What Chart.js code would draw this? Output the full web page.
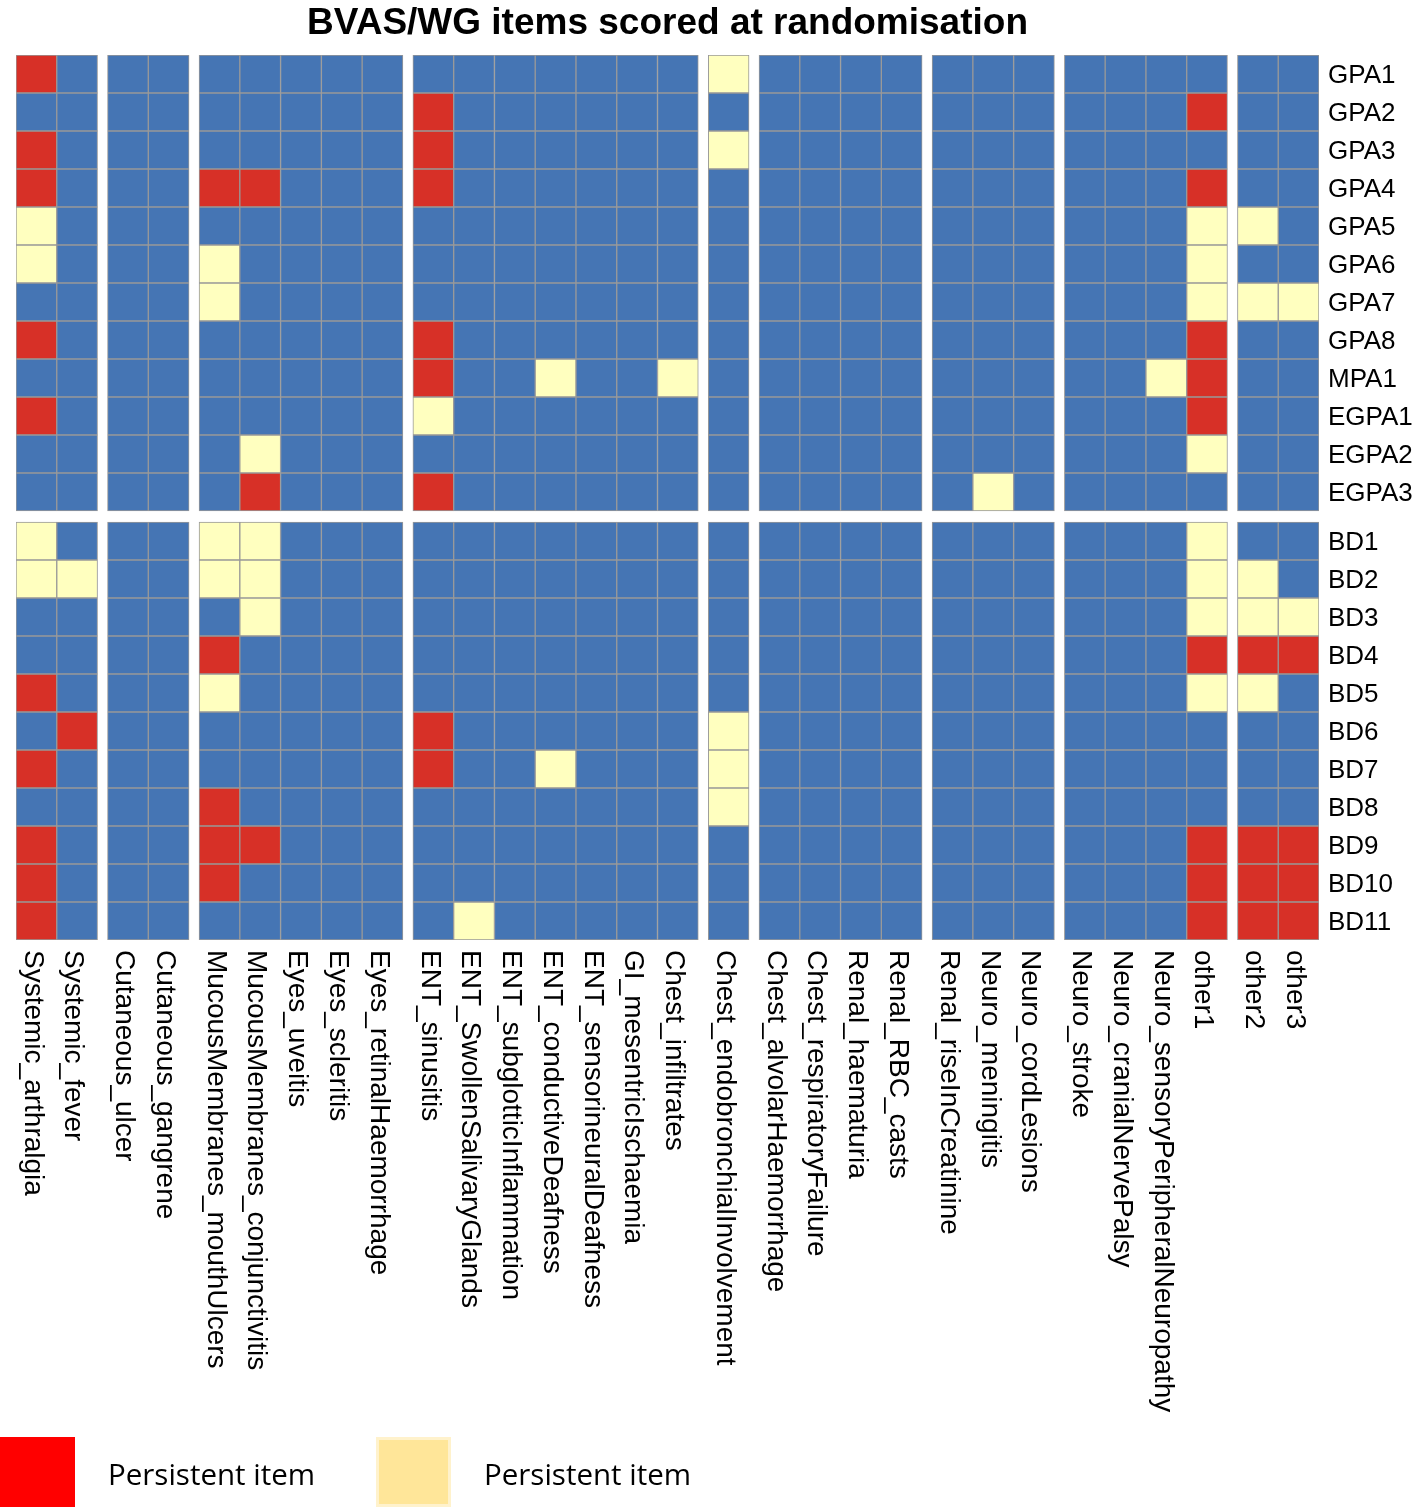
<!DOCTYPE html>
<html>
<head>
<meta charset="utf-8">
<script src="https://cdn.jsdelivr.net/npm/chart.js@4.4.0/dist/chart.umd.min.js"></script>
<style>
  body { margin: 0; background: #fff; }
  #wrap { position: relative; width: 1424px; height: 1507px; overflow: hidden; }
  .key { position: absolute; top: 1437px; width: 75px; height: 70px; box-sizing: border-box; }
  .key-label { position: absolute; top: 1459px; font-family: 'Open Sans', sans-serif; font-size: 29.5px; line-height: 30px; color: #000; white-space: nowrap; }
</style>
</head>
<body>
<div id="wrap">
  <canvas id="heatmap" width="1424" height="1507"></canvas>
  <div class="key" style="left:0;background:#ff0000"></div>
  <div class="key-label" style="left:108px">Persistent item</div>
  <div class="key" style="left:376px;background:#ffe699;border:3px solid #fff2cc"></div>
  <div class="key-label" style="left:484px">Persistent item</div>
</div>
<script>
const title = 'BVAS/WG items scored at randomisation';

const items = [
  'Systemic_arthralgia', 'Systemic_fever',
  'Cutaneous_ulcer', 'Cutaneous_gangrene',
  'MucousMembranes_mouthUlcers', 'MucousMembranes_conjunctivitis', 'Eyes_uveitis', 'Eyes_scleritis', 'Eyes_retinalHaemorrhage',
  'ENT_sinusitis', 'ENT_SwollenSalivaryGlands', 'ENT_subglotticInflammation', 'ENT_conductiveDeafness', 'ENT_sensorineuralDeafness', 'GI_mesentricIschaemia', 'Chest_infiltrates',
  'Chest_endobronchialInvolvement',
  'Chest_alvolarHaemorrhage', 'Chest_respiratoryFailure', 'Renal_haematuria', 'Renal_RBC_casts',
  'Renal_riseInCreatinine', 'Neuro_meningitis', 'Neuro_cordLesions',
  'Neuro_stroke', 'Neuro_cranialNervePalsy', 'Neuro_sensoryPeripheralNeuropathy', 'other1',
  'other2', 'other3'
];
// column block each item belongs to (blocks are separated by a gap)
const itemGroups = [0,0, 1,1, 2,2,2,2,2, 3,3,3,3,3,3,3, 4, 5,5,5,5, 6,6,6, 7,7,7,7, 8,8];

const patients = [
  'GPA1', 'GPA2', 'GPA3', 'GPA4', 'GPA5', 'GPA6', 'GPA7', 'GPA8', 'MPA1', 'EGPA1', 'EGPA2', 'EGPA3',
  'BD1', 'BD2', 'BD3', 'BD4', 'BD5', 'BD6', 'BD7', 'BD8', 'BD9', 'BD10', 'BD11'
];
const patientGroups = [0,0,0,0,0,0,0,0,0,0,0,0, 1,1,1,1,1,1,1,1,1,1,1];

// 0 = not scored, 1 = red, 2 = pale yellow; one array per patient, in item order
const scores = [
  [1,0, 0,0, 0,0,0,0,0, 0,0,0,0,0,0,0, 2, 0,0,0,0, 0,0,0, 0,0,0,0, 0,0], // GPA1
  [0,0, 0,0, 0,0,0,0,0, 1,0,0,0,0,0,0, 0, 0,0,0,0, 0,0,0, 0,0,0,1, 0,0], // GPA2
  [1,0, 0,0, 0,0,0,0,0, 1,0,0,0,0,0,0, 2, 0,0,0,0, 0,0,0, 0,0,0,0, 0,0], // GPA3
  [1,0, 0,0, 1,1,0,0,0, 1,0,0,0,0,0,0, 0, 0,0,0,0, 0,0,0, 0,0,0,1, 0,0], // GPA4
  [2,0, 0,0, 0,0,0,0,0, 0,0,0,0,0,0,0, 0, 0,0,0,0, 0,0,0, 0,0,0,2, 2,0], // GPA5
  [2,0, 0,0, 2,0,0,0,0, 0,0,0,0,0,0,0, 0, 0,0,0,0, 0,0,0, 0,0,0,2, 0,0], // GPA6
  [0,0, 0,0, 2,0,0,0,0, 0,0,0,0,0,0,0, 0, 0,0,0,0, 0,0,0, 0,0,0,2, 2,2], // GPA7
  [1,0, 0,0, 0,0,0,0,0, 1,0,0,0,0,0,0, 0, 0,0,0,0, 0,0,0, 0,0,0,1, 0,0], // GPA8
  [0,0, 0,0, 0,0,0,0,0, 1,0,0,2,0,0,2, 0, 0,0,0,0, 0,0,0, 0,0,2,1, 0,0], // MPA1
  [1,0, 0,0, 0,0,0,0,0, 2,0,0,0,0,0,0, 0, 0,0,0,0, 0,0,0, 0,0,0,1, 0,0], // EGPA1
  [0,0, 0,0, 0,2,0,0,0, 0,0,0,0,0,0,0, 0, 0,0,0,0, 0,0,0, 0,0,0,2, 0,0], // EGPA2
  [0,0, 0,0, 0,1,0,0,0, 1,0,0,0,0,0,0, 0, 0,0,0,0, 0,2,0, 0,0,0,0, 0,0], // EGPA3
  [2,0, 0,0, 2,2,0,0,0, 0,0,0,0,0,0,0, 0, 0,0,0,0, 0,0,0, 0,0,0,2, 0,0], // BD1
  [2,2, 0,0, 2,2,0,0,0, 0,0,0,0,0,0,0, 0, 0,0,0,0, 0,0,0, 0,0,0,2, 2,0], // BD2
  [0,0, 0,0, 0,2,0,0,0, 0,0,0,0,0,0,0, 0, 0,0,0,0, 0,0,0, 0,0,0,2, 2,2], // BD3
  [0,0, 0,0, 1,0,0,0,0, 0,0,0,0,0,0,0, 0, 0,0,0,0, 0,0,0, 0,0,0,1, 1,1], // BD4
  [1,0, 0,0, 2,0,0,0,0, 0,0,0,0,0,0,0, 0, 0,0,0,0, 0,0,0, 0,0,0,2, 2,0], // BD5
  [0,1, 0,0, 0,0,0,0,0, 1,0,0,0,0,0,0, 2, 0,0,0,0, 0,0,0, 0,0,0,0, 0,0], // BD6
  [1,0, 0,0, 0,0,0,0,0, 1,0,0,2,0,0,0, 2, 0,0,0,0, 0,0,0, 0,0,0,0, 0,0], // BD7
  [0,0, 0,0, 1,0,0,0,0, 0,0,0,0,0,0,0, 2, 0,0,0,0, 0,0,0, 0,0,0,0, 0,0], // BD8
  [1,0, 0,0, 1,1,0,0,0, 0,0,0,0,0,0,0, 0, 0,0,0,0, 0,0,0, 0,0,0,1, 1,1], // BD9
  [1,0, 0,0, 1,0,0,0,0, 0,0,0,0,0,0,0, 0, 0,0,0,0, 0,0,0, 0,0,0,1, 1,1], // BD10
  [1,0, 0,0, 0,0,0,0,0, 0,2,0,0,0,0,0, 0, 0,0,0,0, 0,0,0, 0,0,0,1, 1,1]  // BD11
];

const palette = ['#4575b4', '#d73027', '#ffffbf'];

// gap between blocks, in cell units
const colGap = 0.245;
const rowGap = 0.29;

const colPos = items.map((_, i) => i + itemGroups[i] * colGap);
const rowPos = patients.map((_, i) => i + patientGroups[i] * rowGap);

const cells = [];
scores.forEach((row, r) => {
  row.forEach((v, c) => {
    cells.push({ x: colPos[c], y: [rowPos[r] - 0.5, rowPos[r] + 0.5], v: v });
  });
});

Chart.defaults.font.family = '"Liberation Sans", Arial, sans-serif';
Chart.defaults.color = '#000';

const labelsPlugin = {
  id: 'heatmapLabels',
  afterDraw(chart) {
    const { ctx, chartArea, scales } = chart;
    ctx.save();
    ctx.fillStyle = '#000';

    // title
    ctx.font = 'bold 37px "Liberation Sans", Arial, sans-serif';
    ctx.textAlign = 'center';
    ctx.textBaseline = 'alphabetic';
    ctx.fillText(title, (chartArea.left + chartArea.right) / 2, 34);

    // column labels, reading downwards
    ctx.font = '28px "Liberation Sans", Arial, sans-serif';
    ctx.textAlign = 'left';
    ctx.textBaseline = 'middle';
    items.forEach((name, i) => {
      const x = scales.x.getPixelForValue(colPos[i]);
      ctx.save();
      ctx.translate(x - 4, chartArea.bottom + 10);
      ctx.rotate(Math.PI / 2);
      ctx.fillText(name, 0, 0);
      ctx.restore();
    });
    ctx.restore();
  }
};

new Chart(document.getElementById('heatmap'), {
  type: 'bar',
  data: {
    datasets: [{
      data: cells,
      backgroundColor: c => palette[c.raw.v],
      borderColor: '#999999',
      borderWidth: 1,
      borderSkipped: false,
      categoryPercentage: 1,
      barPercentage: 1
    }]
  },
  options: {
    responsive: false,
    animation: false,
    events: [],
    layout: { padding: { top: 55, left: 16, right: 0, bottom: 0 } },
    plugins: {
      legend: { display: false },
      tooltip: { enabled: false },
      title: { display: false }
    },
    scales: {
      x: {
        type: 'linear',
        offset: false,
        min: -0.5,
        max: colPos[colPos.length - 1] + 0.5,
        grid: { display: false },
        border: { display: false },
        ticks: { display: false },
        afterBuildTicks: s => { s.ticks = colPos.map(v => ({ value: v })); },
        afterFit: s => { s.height = 567; }
      },
      y: {
        type: 'linear',
        position: 'right',
        reverse: true,
        min: -0.5,
        max: rowPos[rowPos.length - 1] + 0.5,
        grid: { display: false, drawTicks: false },
        border: { display: false },
        ticks: {
          autoSkip: false,
          padding: 9,
          labelOffset: 2,
          font: { size: 26 },
          color: '#000',
          callback: (v, i) => patients[i]
        },
        afterBuildTicks: s => { s.ticks = rowPos.map(v => ({ value: v })); },
        afterFit: s => { s.width = 105; }
      }
    }
  },
  plugins: [labelsPlugin]
});
</script>
</body>
</html>
